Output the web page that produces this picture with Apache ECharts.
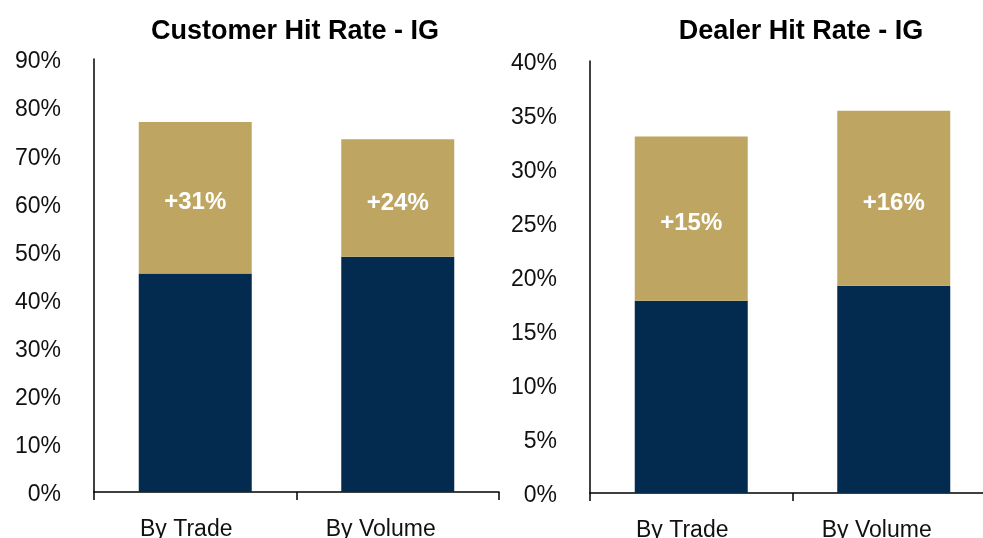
<!DOCTYPE html>
<html>
<head>
<meta charset="utf-8">
<script src="https://cdn.jsdelivr.net/npm/echarts@6/dist/echarts.min.js"></script>
<style>
  html, body { margin: 0; padding: 0; background: #fff; overflow: hidden; }
  /* the right-hand axis runs past the window edge in the reference */
  #main { width: 997px; height: 538px; }
</style>
</head>
<body>
<div id="main"></div>
<script>
// data
var categories = ['By Trade', 'By Volume'];
var customerBase = [45.4, 48.9];
var customerUplift = [31.5, 24.4];
var customerLabels = ['+31%', '+24%'];
var dealerBase = [17.8, 19.2];
var dealerUplift = [15.2, 16.2];
var dealerLabels = ['+15%', '+16%'];
var customerTicks = { min: 0, max: 90, interval: 10 };
var dealerTicks = { min: 0, max: 40, interval: 5 };

var NAVY = '#022b4f'
  ,GOLD = '#bea662'
  ,FONT = '"Liberation Sans", Arial, Helvetica, sans-serif';

var chart = echarts.init(document.getElementById('main'));

function xAxisFor(gridIndex){
  return {
    type: 'category',
    gridIndex: gridIndex,
    data: categories,
    axisLine: { lineStyle: { color: '#000', width: 1.5 } },
    axisTick: { show: true, length: 8, lineStyle: { color: '#000', width: 1.5 } },
    axisLabel: {
      margin: 26,
      color: '#111',
      fontFamily: FONT,
      fontSize: 23,
      formatter: function(v, i){ return '{' + (i ? 'b' : 'a') + '|' + v + '}'; },
      rich: {
        a: { fontFamily: FONT, fontSize: 23, color: '#111', padding: [0, 18, 0, 0] },
        b: { fontFamily: FONT, fontSize: 23, color: '#111', padding: [0, 34, 0, 0] }
      }
    }
  };
}

function yAxisFor(gridIndex, ticks){
  return {
    type: 'value',
    gridIndex: gridIndex,
    min: ticks.min,
    max: ticks.max,
    interval: ticks.interval,
    axisLine: { show: true, lineStyle: { color: '#000', width: 1.5 } },
    axisTick: { show: false },
    splitLine: { show: false },
    axisLabel: {
      margin: 33,
      color: '#111',
      fontFamily: FONT,
      fontSize: 23,
      formatter: '{p|{value}%}',
      rich: {
        p: { fontFamily: FONT, fontSize: 23, color: '#111', padding: [6, 0, 0, 0] }
      }
    }
  };
}

function barPair(axisIndex, base, uplift, labels){
  return [{
    type: 'bar',
    stack: 's' + axisIndex,
    xAxisIndex: axisIndex,
    yAxisIndex: axisIndex,
    barWidth: 113,
    itemStyle: { color: NAVY },
    data: base
  },{
    type: 'bar',
    stack: 's' + axisIndex,
    xAxisIndex: axisIndex,
    yAxisIndex: axisIndex,
    barWidth: 113,
    itemStyle: { color: GOLD },
    label: {
      show: true,
      position: 'inside',
      offset: [0, 5],
      color: '#fff',
      fontFamily: FONT,
      fontWeight: 'bold',
      fontSize: 24,
      formatter: function(p){ return labels[p.dataIndex]; }
    },
    data: uplift
  }];
}

chart.setOption({
  animation: false,
  backgroundColor: '#fff',
  title: [{
    text: 'Customer Hit Rate - IG',
    left: 290, top: 13, textAlign: 'center',
    textStyle: { fontFamily: FONT, fontWeight: 'bold', fontSize: 27, color: '#000' }
  },{
    text: 'Dealer Hit Rate - IG',
    left: 796, top: 13, textAlign: 'center',
    textStyle: { fontFamily: FONT, fontWeight: 'bold', fontSize: 27, color: '#000' }
  }],
  grid: [
    { left: 94, right: 498, top: 59, bottom: 46, outerBoundsMode: 'none' },
    { left: 590, right: 2, top: 61, bottom: 45, outerBoundsMode: 'none' }
  ],
  xAxis: [xAxisFor(0), xAxisFor(1)],
  yAxis: [yAxisFor(0, customerTicks), yAxisFor(1, dealerTicks)],
  series: barPair(0, customerBase, customerUplift, customerLabels)
    .concat(barPair(1, dealerBase, dealerUplift, dealerLabels))
});

window.onresize = chart.resize;
</script>
</body>
</html>
